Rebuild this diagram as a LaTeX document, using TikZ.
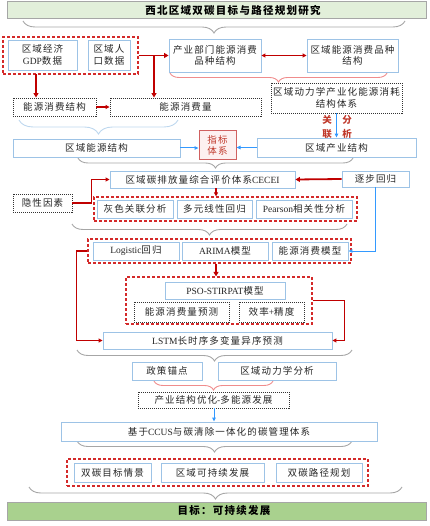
\documentclass[tikz,border=0pt]{standalone}
\usepackage{fontspec}
\setmainfont{Liberation Serif}
\newfontfamily\zh[LetterSpace=12]{Noto Sans CJK SC}
\newfontfamily\zht[LetterSpace=12]{Noto Sans CJK SC}
\usetikzlibrary{arrows.meta,decorations.pathreplacing}
\definecolor{boxblue}{HTML}{9DC3E6}
\definecolor{redd}{HTML}{D42A2A}
\definecolor{redarrow}{HTML}{C00000}
\definecolor{bluearrow}{HTML}{3399FF}
\definecolor{grayb}{HTML}{A6A6A6}
\definecolor{pinkb}{HTML}{F08C8C}
\definecolor{lblueb}{HTML}{BDD7EE}
\definecolor{titlefill}{HTML}{E2EFDA}
\definecolor{goalfill}{HTML}{A9D18E}
\definecolor{idxfill}{HTML}{FDF0F0}
\definecolor{idxline}{HTML}{D06060}
\definecolor{idxtext}{HTML}{C0392B}
\definecolor{txt}{HTML}{262626}
\newcommand\boxat[7]{\node[#1,minimum width={#4-#3},minimum height={#6-#5}] (#2) at ({(#3+#4)/2},{(#5+#6)/2}) {#7};}
\tikzset{
 every node/.style={font=\fontsize{9.5}{11.5}\selectfont, align=center},
 bb/.style={draw=boxblue, line width=0.9pt, fill=white, inner sep=0pt, text=txt},
 rdbox/.style={draw=redd, line width=1.2pt, dash pattern=on 3pt off 2pt, inner sep=0pt},
 dtbox/.style={draw=black!80, line width=0.9pt, dash pattern=on 1pt off 1pt, fill=white, inner sep=0pt, text=txt},
 bar/.style={draw=grayb, line width=1pt, inner sep=0pt, text=black, font=\fontsize{10.5}{12}\selectfont\bfseries},
 ra/.style={draw=redarrow, line width=1.1pt, -{Triangle[length=4pt,width=4pt]}},
 rthick/.style={draw=redarrow, line width=1.8pt, -{Triangle[length=4.5pt,width=5pt]}},
 rda/.style={draw=redarrow, line width=1.4pt, {Triangle[length=4pt,width=4pt]}-{Triangle[length=4pt,width=4pt]}},
 ba/.style={draw=bluearrow, line width=1pt, -{Triangle[length=4pt,width=3.5pt]}},
 brc/.style={decorate, decoration={brace, mirror, amplitude=#1}, line width=0.9pt},
 lbl/.style={text=idxtext, font=\fontsize{9.5}{10}\selectfont\bfseries, inner sep=0pt},
}
\begin{document}
\begin{tikzpicture}[x=1pt,y=-1pt]
\useasboundingbox (0,0) rectangle (429,526);
% title and goal bars
\boxat{bar,fill=titlefill}{title}{7}{426}{2}{19}{\hspace*{33pt}\zht 西北区域双碳目标与路径规划研究}
\boxat{bar,fill=goalfill}{goal}{7}{426}{502}{520}{\hspace*{15pt}\zht 目标：可持续发展}
% braces
\draw[brc=12, draw=grayb] (23,21) -- (405,21);
\draw[brc=9, draw=pinkb] (170,73) -- (387,73);
\draw[brc=14, draw=lblueb] (19,120) -- (178,120);
\draw[brc=10, draw=grayb] (78,158) -- (353,158);
\draw[brc=11, draw=grayb] (72,224) -- (347,224);
\draw[brc=11, draw=grayb] (77,350) -- (352,350);
\draw[brc=9, draw=pinkb] (154,381) -- (273,381);
\draw[brc=11, draw=grayb] (77,441) -- (352,441);
\draw[brc=12, draw=grayb] (29,487) -- (402,487);
% row 1
\boxat{rdbox}{grp1}{3}{138}{37}{74}{}
\boxat{bb}{gdp}{8}{77}{40}{70}{{\zh 区域经济}\\GDP{\zh 数据}}
\boxat{bb}{pop}{88}{130}{40}{70}{\zh 区域人\\\zh 口数据}
\boxat{bb}{ind}{169}{261}{39}{72}{\zh 产业部门能源消费\\\zh 品种结构}
\boxat{bb}{var}{307}{398}{39}{72}{\zh 区域能源消费品种\\\zh 结构}
\boxat{dtbox}{dyn}{271}{402}{83}{113}{\zh 区域动力学产业化能源消耗\\\zh 结构体系}
\boxat{dtbox}{ecs}{13}{96}{98}{116}{\zh 能源消费结构}
\boxat{dtbox}{ecv}{110}{261}{98}{116}{\zh 能源消费量}
% row 2
\boxat{bb}{res}{13}{180}{139}{157}{\zh 区域能源结构}
\boxat{bb,draw=idxline,fill=idxfill,text=idxtext,line width=1pt}{idx}{199}{236}{131}{160}{\zh 指标\\\zh 体系}
\boxat{bb}{ris}{257}{416}{138}{157}{\zh 区域产业结构}
\node[lbl] (l1) at (327,120) {\zh 关};
\node[lbl] (l2) at (327,134) {\zh 联};
\node[lbl] (l3) at (347,120) {\zh 分};
\node[lbl] (l4) at (347,134) {\zh 析};
% row 3
\boxat{bb}{cecei}{110}{295}{171}{188}{{\zh 区域碳排放量综合评价体系}CECEI}
\boxat{bb}{step}{342}{409}{171}{187}{\zh 逐步回归}
\boxat{dtbox}{hid}{13}{72}{194}{212}{\zh 隐性因素}
\boxat{rdbox}{grp2}{94}{357}{197}{221}{}
\boxat{bb}{gray}{97}{173}{200}{218}{\zh 灰色关联分析}
\boxat{bb}{mlr}{177}{252}{200}{218}{\zh 多元线性回归}
\boxat{bb}{pear}{256}{352}{200}{218}{Pearson{\zh 相关性分析}}
% row 4
\boxat{rdbox}{grp3}{88}{351}{239}{263}{}
\boxat{bb}{logi}{93}{179}{242}{260}{Logistic{\zh 回归}}
\boxat{bb}{arima}{182}{268}{242}{260}{ARIMA{\zh 模型}}
\boxat{bb}{ecm}{272}{348}{242}{260}{\zh 能源消费模型}
\boxat{rdbox}{grp4}{126}{312}{277}{324}{}
\boxat{bb}{pso}{165}{285}{282}{299}{PSO-STIRPAT{\zh 模型}}
\boxat{dtbox}{ecp}{134}{229}{302}{322}{\zh 能源消费量预测}
\boxat{dtbox}{eff}{239}{304}{302}{322}{{\zh 效率}+{\zh 精度}}
\boxat{bb}{lstm}{103}{332}{332}{349}{LSTM{\zh 长时序多变量异序预测}}
% row 5
\boxat{bb}{pol}{132}{202}{362}{380}{\zh 政策锚点}
\boxat{bb}{rda}{218}{336}{362}{380}{\zh 区域动力学分析}
\boxat{dtbox}{opt}{138}{289}{392}{408}{{\zh 产业结构优化}-{\zh 多能源发展}}
\boxat{bb}{ccus}{61}{377}{422}{441}{{\zh 基于}CCUS{\zh 与碳清除一体化的碳管理体系}}
\boxat{rdbox}{grp5}{67}{368}{459}{486}{}
\boxat{bb}{dcs}{74}{151}{463}{482}{\zh 双碳目标情景}
\boxat{bb}{rsd}{161}{264}{463}{482}{\zh 区域可持续发展}
\boxat{bb}{dcp}{276}{362}{463}{482}{\zh 双碳路径规划}
% connectors
\coordinate (br) at (154,55.5);
\coordinate (c1) at (36,74);
\coordinate (c2) at (216,0);
\coordinate (c3) at (214,0);
\draw[rthick] (grp1.east) -- (ind.west);
\draw[rthick] (br) -- (br |- ecv.north);
\draw[rthick] (c1) -- (c1 |- ecs.north);
\draw[rda] (ind.east) -- (var.west);
\draw[ra] (ecs.east) -- (ecv.west);
\draw[ba] (dyn.south) -- (ris.north);
\draw[ba] (res.east) -- (res.east -| idx.west);
\draw[ba] (ris.west) -- (ris.west -| idx.east);
\draw[rthick] (step.west) -- (cecei.east);
\draw[ba] (step.south) |- (ecm.east);
\draw[ra] (hid.east) -- ++(19,0) |- (cecei.west);
\draw[ra] (cecei.south -| c2) -- (grp2.north -| c2);
\draw[rthick] (grp3.south -| c2) -- (grp4.north -| c2);
\draw[ra] (grp3.west) -- ++(-11,0) |- (lstm.west);
\draw[ra] (grp4.east) -- ++(32,0) |- (lstm.east);
\draw[ba] (opt.south -| c3) -- (ccus.north -| c3);
\end{tikzpicture}
\end{document}
